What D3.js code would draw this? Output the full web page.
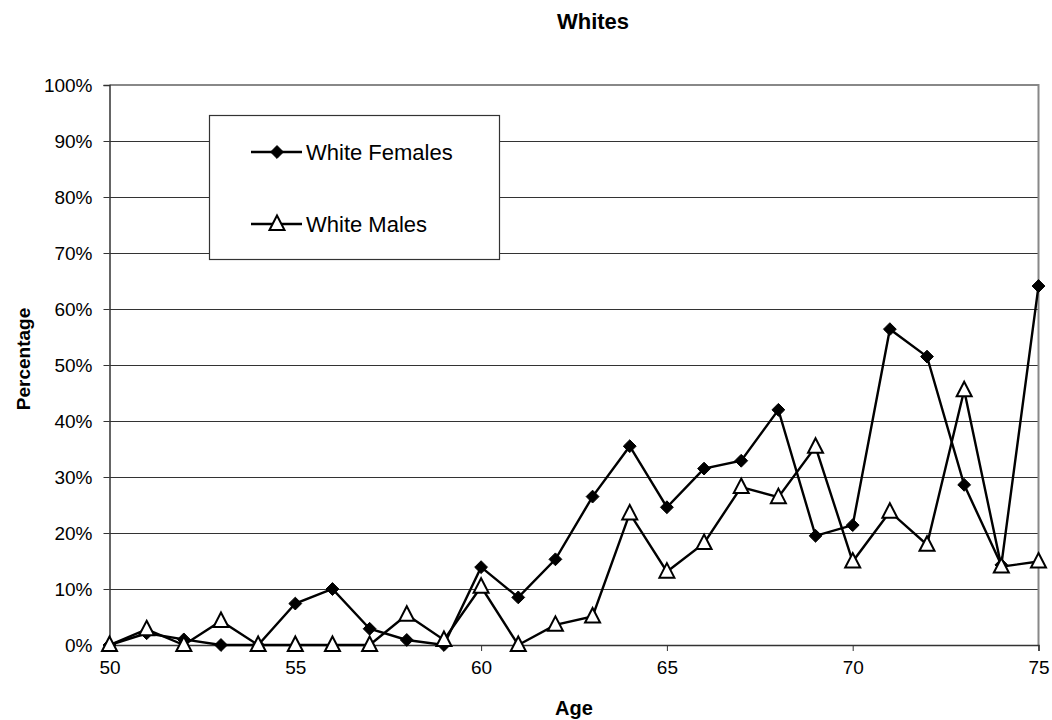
<!DOCTYPE html>
<html>
<head>
<meta charset="utf-8">
<script src="https://cdn.jsdelivr.net/npm/d3@7"></script>
<style>
  body { margin: 0; background: #fff; }
  text { font-family: "Liberation Sans", Arial, sans-serif; fill: #000; }
</style>
</head>
<body>
<div id="chart"></div>
<script>
// ages and the two series
var ages = d3.range(50, 76);
var whiteFemales = [0, 2.1, 1.0, 0, 0, 7.4, 10.0, 2.9, 0.9, 0, 13.9, 8.5, 15.3, 26.5, 35.5,
  24.6, 31.5, 32.9, 42.0, 19.5, 21.4, 56.4, 51.5, 28.6, 14.3, 64.1];
var whiteMales = [0, 2.8, 0, 4.3, 0, 0, 0, 0, 5.4, 0.9, 10.4, 0, 3.6, 5.1, 23.5,
  13.1, 18.2, 28.2, 26.4, 35.4, 14.9, 23.8, 17.9, 45.5, 14.0, 14.9];
var yTicks = [0, 10, 20, 30, 40, 50, 60, 70, 80, 90, 100];
var xTicks = [50, 55, 60, 65, 70, 75];

var width = 1052,
    height = 720;
// plot area edges (don't call it "top", that's window.top)
var plotLeft = 109.5, plotRight = 1038.5, plotTop = 85, plotBottom = 645;

var svg = d3.select("#chart").append("svg")
  .attr("width", width)
  .attr("height", height);

var x = d3.scaleLinear().domain([50, 75]).range([plotLeft, plotRight]);
var y = d3.scaleLinear().domain([0, 100]).range([plotBottom, plotTop]);

// gridlines
svg.append("g")
  .selectAll("line")
  .data(yTicks.slice(1, -1))
  .enter().append("line")
  .attr("x1", plotLeft).attr("x2", plotRight)
  .attr("y1", d => Math.round(y(d)) + 0.5).attr("y2", d => Math.round(y(d)) + 0.5)
  .style("stroke", "#333")
  .style("stroke-width", 1.2);

// plot area border (top and right, gray)
svg.append("path")
  .attr("d", "M" + plotLeft + "," + plotTop + "H" + plotRight + "V" + plotBottom)
  .attr("fill", "none")
  .style("stroke", "#888")
  .style("stroke-width", 2);

// y axis
var yAxis = svg.append("g")
  .attr("transform", "translate(" + plotLeft + ",0)")
  .call(d3.axisLeft(y).tickValues(yTicks).tickFormat(d => d + "%").tickSize(6).tickPadding(11));
yAxis.select(".domain").style("stroke", "#333").style("stroke-width", 1.5);
yAxis.selectAll(".tick line").style("stroke", "#333");
yAxis.selectAll("text").style("font-size", "19px").attr("fill", "#000");

// x axis
var xAxis = svg.append("g")
  .attr("transform", "translate(0," + plotBottom + ")")
  .call(d3.axisBottom(x).tickValues(xTicks).tickFormat(d3.format("d")).tickSize(6).tickPadding(10));
xAxis.select(".domain").style("stroke", "#333").style("stroke-width", 1.5);
xAxis.selectAll(".tick line").style("stroke", "#333");
xAxis.selectAll("text").style("font-size", "19px").attr("fill", "#000");

// titles
svg.append("text")
  .attr("x", 593).attr("y", 29)
  .attr("text-anchor", "middle")
  .style("font-size", "22px").style("font-weight", "bold")
  .text("Whites");

svg.append("text")
  .attr("x", 574).attr("y", 715)
  .attr("text-anchor", "middle")
  .style("font-size", "20px").style("font-weight", "bold")
  .text("Age");

svg.append("text")
  .attr("transform", "translate(30,359) rotate(-90)")
  .attr("text-anchor", "middle")
  .style("font-size", "19px").style("font-weight", "bold")
  .text("Percentage");

var line = d3.line()
  .x((d, i) => x(ages[i]))
  .y(d => y(d));

var diamond = d3.symbol().type(d3.symbolDiamond2).size(105);
var triangle = "M0,-8.5L7.5,6L-7.5,6Z";

function drawSeries(data, marker, fill) {
  svg.append("path")
    .datum(data)
    .attr("d", line)
    .attr("fill", "none")
    .style("stroke", "#000")
    .style("stroke-width", 2.4);

  svg.append("g")
    .selectAll("path")
    .data(data)
    .enter().append("path")
    .attr("transform", (d, i) => "translate(" + x(ages[i]) + "," + y(d) + ")")
    .attr("d", marker)
    .attr("fill", fill)
    .style("stroke", "#000")
    .style("stroke-width", fill === "#000" ? 1 : 2);
}

drawSeries(whiteFemales, diamond(), "#000");
drawSeries(whiteMales, triangle, "#fff");

// legend
var legend = svg.append("g");
legend.append("rect")
  .attr("x", 209.5).attr("y", 115.5)
  .attr("width", 290).attr("height", 144)
  .attr("fill", "#fff")
  .style("stroke", "#333")
  .style("stroke-width", 1.2);

var legendItems = [
  {name: "White Females", marker: diamond(), fill: "#000", cy: 152},
  {name: "White Males", marker: triangle, fill: "#fff", cy: 224}
];

legendItems.forEach(function(item) {
  legend.append("line")
    .attr("x1", 251).attr("x2", 302)
    .attr("y1", item.cy).attr("y2", item.cy)
    .style("stroke", "#000").style("stroke-width", 2.4);
  legend.append("path")
    .attr("transform", "translate(277," + item.cy + ")")
    .attr("d", item.marker)
    .attr("fill", item.fill)
    .style("stroke", "#000")
    .style("stroke-width", item.fill === "#000" ? 1 : 2);
  legend.append("text")
    .attr("x", 306).attr("y", item.cy + 8)
    .style("font-size", "22px")
    .text(item.name);
});
</script>
</body>
</html>
